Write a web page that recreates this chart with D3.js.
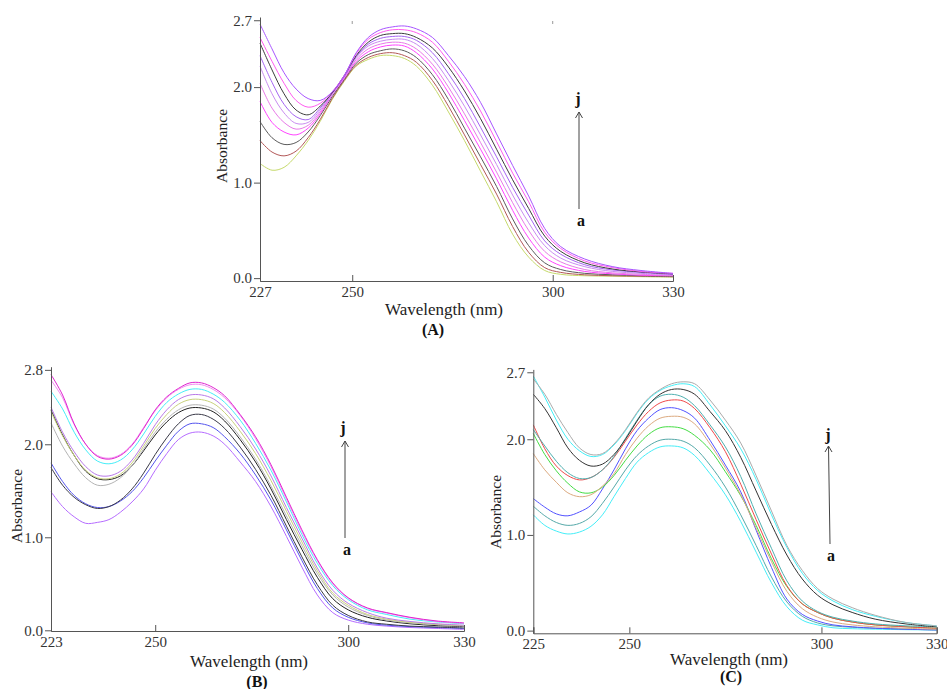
<!DOCTYPE html>
<html>
<head>
<meta charset="utf-8">
<script src="https://cdn.jsdelivr.net/npm/d3@7"></script>
<style>
  body { margin: 0; background: #fff; }
  svg text { font-family: 'Liberation Serif', 'Times New Roman', 'DejaVu Serif', serif; }
</style>
</head>
<body>
<svg id="fig" width="947" height="689"></svg>
<script>
const SERIF = "'Liberation Serif', 'Times New Roman', 'DejaVu Serif', serif";

// ---- panel A: wavelengths (nm) and absorbance curves a..j
const wlA = [227, 230, 233, 236, 239, 242, 245, 248, 251, 254, 257, 260, 263, 266, 270, 274, 278, 282, 286, 290, 294, 298, 302, 308, 315, 322, 330];
const absA = [
  [1.20, 1.13, 1.16, 1.28, 1.44, 1.64, 1.87, 2.06, 2.22, 2.29, 2.33, 2.33, 2.30, 2.22, 2.02, 1.74, 1.44, 1.12, 0.80, 0.46, 0.22, 0.08, 0.04, 0.025, 0.02, 0.015, 0.01],
  [1.44, 1.32, 1.28, 1.33, 1.47, 1.66, 1.88, 2.07, 2.23, 2.31, 2.35, 2.36, 2.33, 2.26, 2.07, 1.80, 1.50, 1.19, 0.88, 0.54, 0.27, 0.11, 0.06, 0.035, 0.025, 0.02, 0.015],
  [1.64, 1.47, 1.40, 1.42, 1.53, 1.70, 1.90, 2.08, 2.25, 2.34, 2.38, 2.40, 2.38, 2.31, 2.13, 1.87, 1.57, 1.27, 0.96, 0.62, 0.34, 0.16, 0.09, 0.05, 0.035, 0.025, 0.02],
  [1.85, 1.63, 1.53, 1.50, 1.57, 1.72, 1.92, 2.09, 2.27, 2.37, 2.42, 2.44, 2.43, 2.36, 2.19, 1.94, 1.65, 1.35, 1.04, 0.71, 0.42, 0.22, 0.13, 0.07, 0.045, 0.03, 0.025],
  [2.04, 1.78, 1.63, 1.56, 1.60, 1.74, 1.93, 2.10, 2.29, 2.40, 2.45, 2.47, 2.46, 2.40, 2.24, 2.00, 1.72, 1.42, 1.11, 0.79, 0.50, 0.28, 0.17, 0.09, 0.055, 0.04, 0.03],
  [2.22, 1.93, 1.73, 1.62, 1.63, 1.76, 1.93, 2.11, 2.31, 2.43, 2.48, 2.50, 2.50, 2.45, 2.30, 2.07, 1.80, 1.50, 1.19, 0.87, 0.58, 0.34, 0.21, 0.12, 0.07, 0.05, 0.035],
  [2.33, 2.05, 1.82, 1.69, 1.66, 1.78, 1.94, 2.11, 2.32, 2.45, 2.51, 2.53, 2.53, 2.49, 2.36, 2.14, 1.88, 1.58, 1.27, 0.95, 0.66, 0.39, 0.25, 0.14, 0.085, 0.06, 0.04],
  [2.46, 2.18, 1.93, 1.76, 1.71, 1.80, 1.94, 2.12, 2.33, 2.47, 2.54, 2.56, 2.56, 2.52, 2.41, 2.21, 1.96, 1.67, 1.35, 1.03, 0.73, 0.44, 0.28, 0.16, 0.095, 0.065, 0.045],
  [2.52, 2.27, 2.04, 1.86, 1.79, 1.83, 1.95, 2.12, 2.35, 2.50, 2.57, 2.60, 2.60, 2.57, 2.47, 2.27, 2.03, 1.75, 1.43, 1.10, 0.80, 0.48, 0.31, 0.18, 0.11, 0.07, 0.05],
  [2.66, 2.40, 2.15, 1.98, 1.88, 1.86, 1.95, 2.12, 2.36, 2.52, 2.60, 2.63, 2.64, 2.61, 2.52, 2.33, 2.11, 1.84, 1.51, 1.18, 0.86, 0.52, 0.33, 0.20, 0.12, 0.08, 0.05]
];
const xTicksA = [227, 250, 300, 330];
const yTicksA = [0, 1, 2, 2.7];

// ---- panel B
const wlB = [223, 226, 229, 232, 235, 238, 241, 244, 247, 250, 253, 256, 259, 262, 265, 268, 272, 276, 280, 284, 288, 292, 296, 300, 305, 310, 316, 323, 330];
const absB = [
  [1.49, 1.33, 1.22, 1.15, 1.16, 1.19, 1.27, 1.38, 1.52, 1.72, 1.90, 2.05, 2.12, 2.13, 2.09, 2.00, 1.81, 1.60, 1.33, 1.01, 0.68, 0.38, 0.19, 0.11, 0.065, 0.045, 0.03, 0.02, 0.01],
  [1.80, 1.60, 1.45, 1.36, 1.32, 1.33, 1.39, 1.49, 1.64, 1.82, 1.99, 2.14, 2.22, 2.22, 2.18, 2.08, 1.90, 1.67, 1.40, 1.08, 0.75, 0.45, 0.24, 0.14, 0.08, 0.055, 0.04, 0.03, 0.02],
  [1.75, 1.56, 1.43, 1.35, 1.31, 1.33, 1.40, 1.52, 1.69, 1.89, 2.07, 2.22, 2.31, 2.32, 2.27, 2.17, 1.97, 1.73, 1.45, 1.12, 0.79, 0.49, 0.27, 0.16, 0.09, 0.065, 0.045, 0.035, 0.025],
  [2.37, 2.10, 1.88, 1.71, 1.63, 1.62, 1.66, 1.77, 1.93, 2.10, 2.24, 2.34, 2.39, 2.39, 2.35, 2.25, 2.05, 1.81, 1.52, 1.19, 0.87, 0.57, 0.34, 0.22, 0.14, 0.10, 0.07, 0.05, 0.04],
  [2.23, 1.98, 1.79, 1.64, 1.56, 1.57, 1.64, 1.77, 1.95, 2.13, 2.27, 2.37, 2.42, 2.42, 2.38, 2.28, 2.08, 1.84, 1.55, 1.23, 0.91, 0.61, 0.38, 0.25, 0.16, 0.11, 0.08, 0.06, 0.045],
  [2.35, 2.09, 1.88, 1.72, 1.64, 1.63, 1.68, 1.80, 1.98, 2.17, 2.32, 2.43, 2.48, 2.48, 2.44, 2.34, 2.14, 1.90, 1.61, 1.28, 0.95, 0.64, 0.40, 0.27, 0.17, 0.12, 0.085, 0.065, 0.05],
  [2.40, 2.13, 1.92, 1.76, 1.67, 1.66, 1.71, 1.83, 2.01, 2.21, 2.37, 2.48, 2.53, 2.53, 2.49, 2.39, 2.19, 1.95, 1.66, 1.32, 0.99, 0.67, 0.43, 0.29, 0.19, 0.13, 0.095, 0.07, 0.055],
  [2.57, 2.38, 2.13, 1.94, 1.82, 1.79, 1.83, 1.94, 2.11, 2.30, 2.45, 2.54, 2.59, 2.59, 2.54, 2.45, 2.26, 2.01, 1.72, 1.38, 1.03, 0.72, 0.48, 0.33, 0.22, 0.17, 0.12, 0.09, 0.07],
  [2.69, 2.50, 2.21, 2.00, 1.88, 1.85, 1.89, 2.00, 2.18, 2.36, 2.50, 2.59, 2.64, 2.64, 2.59, 2.50, 2.31, 2.06, 1.76, 1.41, 1.06, 0.75, 0.50, 0.345, 0.235, 0.185, 0.135, 0.095, 0.075],
  [2.75, 2.53, 2.22, 2.00, 1.87, 1.84, 1.88, 1.99, 2.17, 2.37, 2.51, 2.60, 2.66, 2.66, 2.61, 2.52, 2.32, 2.08, 1.78, 1.43, 1.08, 0.76, 0.51, 0.35, 0.24, 0.19, 0.14, 0.10, 0.08]
];
const xTicksB = [223, 250, 300, 330];
const yTicksB = [0, 1, 2, 2.8];

// ---- panel C
const wlC = [225, 228, 231, 234, 237, 240, 243, 246, 249, 252, 255, 258, 261, 264, 267, 271, 275, 279, 283, 287, 291, 295, 299, 303, 308, 314, 322, 330];
const absC = [
  [1.21, 1.10, 1.04, 1.01, 1.03, 1.09, 1.21, 1.40, 1.59, 1.76, 1.86, 1.92, 1.93, 1.91, 1.83, 1.64, 1.42, 1.14, 0.82, 0.50, 0.25, 0.11, 0.06, 0.03, 0.02, 0.015, 0.01, 0.007],
  [1.30, 1.20, 1.13, 1.10, 1.12, 1.19, 1.33, 1.50, 1.68, 1.83, 1.93, 1.99, 2.00, 1.98, 1.91, 1.73, 1.50, 1.21, 0.89, 0.56, 0.30, 0.15, 0.08, 0.05, 0.035, 0.025, 0.015, 0.007],
  [1.38, 1.29, 1.22, 1.20, 1.24, 1.31, 1.48, 1.68, 1.90, 2.09, 2.22, 2.31, 2.33, 2.30, 2.22, 1.99, 1.73, 1.45, 1.05, 0.66, 0.33, 0.17, 0.10, 0.06, 0.04, 0.025, 0.015, 0.007],
  [2.06, 1.84, 1.67, 1.54, 1.45, 1.44, 1.50, 1.62, 1.78, 1.93, 2.05, 2.12, 2.13, 2.11, 2.04, 1.89, 1.66, 1.41, 1.10, 0.75, 0.46, 0.28, 0.19, 0.13, 0.09, 0.06, 0.04, 0.025],
  [1.85, 1.68, 1.55, 1.44, 1.40, 1.42, 1.51, 1.64, 1.84, 2.01, 2.14, 2.22, 2.24, 2.23, 2.16, 1.95, 1.70, 1.42, 1.07, 0.72, 0.41, 0.23, 0.14, 0.09, 0.06, 0.04, 0.025, 0.014],
  [2.15, 1.90, 1.72, 1.62, 1.575, 1.60, 1.68, 1.81, 1.98, 2.15, 2.29, 2.38, 2.41, 2.40, 2.32, 2.12, 1.87, 1.53, 1.16, 0.80, 0.47, 0.28, 0.19, 0.13, 0.09, 0.06, 0.04, 0.025],
  [2.10, 1.93, 1.77, 1.65, 1.59, 1.60, 1.68, 1.82, 2.01, 2.20, 2.36, 2.45, 2.47, 2.44, 2.35, 2.15, 1.92, 1.61, 1.22, 0.86, 0.52, 0.31, 0.20, 0.14, 0.10, 0.07, 0.05, 0.04],
  [2.47, 2.32, 2.12, 1.91, 1.78, 1.72, 1.74, 1.84, 2.00, 2.19, 2.36, 2.47, 2.52, 2.52, 2.47, 2.29, 2.09, 1.81, 1.46, 1.11, 0.79, 0.54, 0.37, 0.27, 0.19, 0.12, 0.07, 0.04],
  [2.66, 2.44, 2.20, 2.00, 1.88, 1.82, 1.84, 1.94, 2.09, 2.27, 2.42, 2.51, 2.56, 2.58, 2.55, 2.36, 2.14, 1.90, 1.58, 1.21, 0.87, 0.60, 0.42, 0.31, 0.22, 0.15, 0.085, 0.05],
  [2.63, 2.47, 2.26, 2.07, 1.91, 1.84, 1.85, 1.95, 2.10, 2.28, 2.43, 2.52, 2.58, 2.60, 2.58, 2.41, 2.20, 1.96, 1.62, 1.25, 0.89, 0.63, 0.44, 0.33, 0.24, 0.16, 0.085, 0.05]
];
const xTicksC = [225, 250, 300, 330];
const yTicksC = [0, 1, 2, 2.7];

// line colours, a..j
const colorsA = ['#c6da6c', '#b35858', '#5c5c5c', '#ff44ff', '#e87ae8', '#c98cf0', '#a565f2', '#3c3c3c', '#ff5cf0', '#a855ff'];
const colorsB = ['#b66cff', '#5555ee', '#3a3a48', '#222222', '#b4b4b4', '#c9d27c', '#b97ae8', '#44eef8', '#f28cf2', '#e025d0'];
const colorsC = ['#44eef8', '#55a9a9', '#5252ff', '#44dd44', '#dcaa80', '#f04a4a', '#4fb0b0', '#333333', '#44f0f8', '#ababab'];

const svg = d3.select('#fig');

// layout of each panel in pixels
const panels = [
  {
    wl: wlA, abs: absA, colors: colorsA, xTicks: xTicksA, yTicks: yTicksA,
    xDomain: [227, 330], xRange: [260, 673],
    yDomain: [-0.03, 2.734], yRange: [281, 17],
    xLabel: [444, 315], yLabel: [222, 146], tag: ['(A)', 433, 335],
    arrow: { x0: 579, x1: 579, y0: 209, y1: 112, j: [578, 104], a: [581, 226] },
    topMarks: true
  },
  {
    wl: wlB, abs: absB, colors: colorsB, xTicks: xTicksB, yTicks: yTicksB,
    xDomain: [223, 330], xRange: [51, 464],
    yDomain: [-0.0075, 2.834], yRange: [631, 366.7],
    xLabel: [249, 667], yLabel: [17, 506], tag: ['(B)', 257, 687],
    arrow: { x0: 345, x1: 345, y0: 538, y1: 441, j: [343, 433], a: [347, 555] },
    topMarks: false
  },
  {
    wl: wlC, abs: absC, colors: colorsC, xTicks: xTicksC, yTicks: yTicksC,
    xDomain: [225, 330], xRange: [533.3, 936.7],
    yDomain: [-0.028, 2.73], yRange: [633.3, 369.4],
    xLabel: [729, 665], yLabel: [496, 512], tag: ['(C)', 731, 682],
    arrow: { x0: 830, x1: 828.5, y0: 544, y1: 446, j: [828, 440], a: [831, 561] },
    topMarks: false
  }
];

panels.forEach(p => {
  const x = d3.scaleLinear().domain(p.xDomain).range(p.xRange);
  const y = d3.scaleLinear().domain(p.yDomain).range(p.yRange);
  const g = svg.append('g');

  // spectra
  const line = d3.line()
    .x((d, i) => x(p.wl[i]))
    .y(d => y(d))
    .curve(d3.curveCatmullRom.alpha(0.5));

  g.selectAll('path.spectrum')
    .data(p.abs)
    .join('path')
      .attr('class', 'spectrum')
      .attr('d', line)
      .attr('fill', 'none')
      .attr('stroke', (d, i) => p.colors[i])
      .attr('stroke-width', 1);

  // axes: x ticks point up into the plot, y ticks point out
  const xAxis = d3.axisBottom(x)
    .tickValues(p.xTicks)
    .tickSize(-6)
    .tickPadding(5)
    .tickFormat(d3.format('d'));
  const yAxis = d3.axisLeft(y)
    .tickValues(p.yTicks)
    .tickSizeInner(6)
    .tickSizeOuter(0)
    .tickPadding(2)
    .tickFormat(d3.format('.1f'));

  const xg = g.append('g')
    .attr('transform', `translate(0,${p.yRange[0]})`)
    .call(xAxis);
  const yg = g.append('g')
    .attr('transform', `translate(${p.xRange[0]},0)`)
    .call(yAxis);

  [xg, yg].forEach(ag => {
    ag.attr('font-family', SERIF).attr('font-size', 15);
    ag.select('.domain').attr('stroke', '#555');
    ag.selectAll('.tick line').attr('stroke', '#555');
    ag.selectAll('text')
      .attr('fill', '#333')
      .attr('font-family', SERIF);
  });

  // faint marks along the top edge (panel A only)
  if (p.topMarks) {
    g.selectAll('line.topmark')
      .data([250, 300])
      .join('line')
        .attr('class', 'topmark')
        .attr('x1', d => x(d)).attr('x2', d => x(d))
        .attr('y1', 21).attr('y2', 24)
        .attr('stroke', '#999');
  }

  // axis titles
  g.append('text')
    .attr('x', p.xLabel[0]).attr('y', p.xLabel[1])
    .attr('text-anchor', 'middle')
    .attr('font-family', SERIF)
    .attr('font-size', 17)
    .attr('fill', '#222')
    .text('Wavelength (nm)');

  g.append('text')
    .attr('transform', `translate(${p.yLabel[0]},${p.yLabel[1]}) rotate(-90)`)
    .attr('dy', '0.35em')
    .attr('text-anchor', 'middle')
    .attr('font-family', SERIF)
    .attr('font-size', 15.5)
    .attr('fill', '#222')
    .text('Absorbance');

  g.append('text')
    .attr('x', p.tag[1]).attr('y', p.tag[2])
    .attr('text-anchor', 'middle')
    .attr('font-family', SERIF)
    .attr('font-size', 16)
    .attr('font-weight', 'bold')
    .attr('fill', '#111')
    .text(p.tag[0]);

  // a -> j arrow
  const a = p.arrow;
  g.append('path')
    .attr('d', `M${a.x0},${a.y0}L${a.x1},${a.y1}M${a.x1 - 3.5},${a.y1 + 6}L${a.x1},${a.y1}L${a.x1 + 3.5},${a.y1 + 6}`)
    .attr('fill', 'none')
    .attr('stroke', '#444')
    .attr('stroke-width', 1);

  g.selectAll('text.end')
    .data([['j', a.j], ['a', a.a]])
    .join('text')
      .attr('class', 'end')
      .attr('x', d => d[1][0]).attr('y', d => d[1][1])
      .attr('text-anchor', 'middle')
      .attr('font-family', SERIF)
      .attr('font-size', 16)
      .attr('font-weight', 'bold')
      .attr('fill', '#111')
      .text(d => d[0]);
});
</script>
</body>
</html>
